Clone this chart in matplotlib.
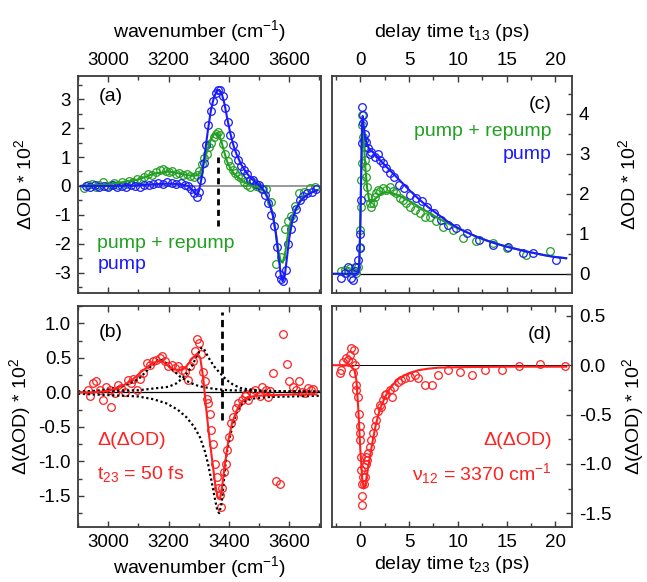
import numpy as np
import matplotlib
matplotlib.use("Agg")
import matplotlib.pyplot as plt
from matplotlib.ticker import MultipleLocator, FormatStrFormatter

plt.rcParams['font.family'] = ['Liberation Sans', 'DejaVu Sans']
plt.rcParams['mathtext.fontset'] = 'custom'
plt.rcParams['mathtext.rm'] = 'Liberation Sans'
plt.rcParams['mathtext.it'] = 'Liberation Sans:italic'
plt.rcParams['mathtext.default'] = 'regular'
plt.rcParams['axes.unicode_minus'] = False

GREEN = '#22a022'
BLUE = '#1a1aff'
RED = '#ff2020'
SPINE = '#3a3a3a'

# ---------------- panel (a): transient spectra ----------------
a_wn_pump = [2925, 2940, 2955, 2970, 2985, 3000, 3015, 3030, 3045, 3060, 3075, 3090,
             3105, 3120, 3135, 3150, 3165, 3180, 3195, 3210, 3225, 3240, 3255, 3265,
             3275, 3285, 3293, 3300, 3308, 3316, 3324, 3332, 3340, 3348, 3356, 3364,
             3372, 3380, 3388, 3396, 3404, 3412, 3420, 3430, 3440, 3450, 3460, 3470,
             3480, 3490, 3500, 3510, 3520, 3530, 3540, 3550, 3558, 3566, 3574, 3580,
             3588, 3596, 3604, 3612, 3622, 3634, 3646, 3660, 3675, 3688]
a_od_pump = [0.0, -0.02, 0.03, -0.03, 0.0, -0.02, 0.02, -0.02, 0.0, -0.04, 0.02, 0.0,
             -0.02, 0.03, 0.05, 0.08, 0.1, 0.08, 0.12, 0.1, 0.06, 0.1, 0.05, 0.0,
             -0.1, -0.25, -0.38, -0.2, 0.2, 0.8, 1.4, 2.1, 2.6, 2.95, 3.2, 3.3,
             3.3, 3.1, 2.7, 2.2, 1.75, 1.4, 1.15, 0.9, 0.7, 0.55, 0.4, 0.2,
             0.2, 0.08, 0.05, -0.1, -0.3, -0.6, -1.0, -1.4, -2.1, -3.05, -3.2, -3.3,
             -2.9, -2.0, -1.5, -1.1, -0.8, -0.5, -0.35, -0.25, -0.2, -0.12]

a_wn_rep = [2920, 2932, 2945, 2958, 2970, 2983, 2995, 3008, 3020, 3033, 3045, 3058,
            3070, 3083, 3095, 3108, 3120, 3133, 3145, 3158, 3170, 3180, 3190, 3200,
            3212, 3224, 3236, 3248, 3260, 3272, 3284, 3294, 3302, 3310, 3318, 3326,
            3334, 3342, 3350, 3358, 3365, 3372, 3380, 3388, 3396, 3404, 3412, 3420,
            3430, 3440, 3450, 3460, 3470, 3480, 3490, 3500, 3512, 3524, 3538, 3557,
            3574, 3585, 3596, 3606, 3618, 3632, 3650, 3668, 3685]
a_od_rep = [-0.08, 0.05, 0.08, -0.02, 0.05, 0.12, 0.0, 0.05, 0.1, 0.05, 0.12, 0.08,
            0.18, 0.15, 0.25, 0.2, 0.32, 0.4, 0.38, 0.48, 0.55, 0.6, 0.52, 0.48,
            0.5, 0.42, 0.45, 0.38, 0.42, 0.35, 0.32, 0.38, 0.5, 0.75, 0.95, 1.1,
            1.35, 1.5, 1.7, 1.78, 1.88, 1.75, 1.45, 1.1, 0.85, 0.7, 0.55, 0.45,
            0.35, 0.28, 0.15, 0.05, -0.05, 0.12, 0.0, -0.02, -0.1, -0.12, -0.55, -2.7,
            -2.45, -1.5, -1.2, -1.05, -0.7, -0.25, -0.2, -0.08, -0.05]

a_fit_wn = [2910, 3000, 3100, 3150, 3200, 3240, 3265, 3280, 3292, 3300, 3310, 3320,
            3330, 3340, 3350, 3360, 3368, 3376, 3385, 3395, 3405, 3415, 3425, 3440,
            3455, 3470, 3485, 3500, 3515, 3530, 3545, 3555, 3565, 3572, 3578, 3585,
            3592, 3600, 3610, 3620, 3635, 3650, 3665, 3680, 3692]
a_fit_pump = [0.0, 0.0, 0.02, 0.06, 0.08, 0.06, 0.0, -0.15, -0.3, -0.2, 0.3, 1.1,
              1.9, 2.6, 3.05, 3.28, 3.32, 3.2, 2.85, 2.3, 1.8, 1.4, 1.1, 0.75,
              0.5, 0.3, 0.15, 0.02, -0.15, -0.45, -1.0, -1.6, -2.5, -3.1, -3.3, -3.1,
              -2.5, -1.8, -1.2, -0.85, -0.55, -0.38, -0.27, -0.2, -0.15]
a_fit_rep = [0.0, 0.05, 0.22, 0.42, 0.5, 0.42, 0.37, 0.35, 0.36, 0.42, 0.6, 0.9,
             1.3, 1.6, 1.78, 1.83, 1.75, 1.5, 1.15, 0.82, 0.6, 0.45, 0.35, 0.22,
             0.1, 0.02, -0.02, -0.05, -0.15, -0.4, -0.95, -1.6, -2.3, -2.6, -2.65, -2.4,
             -1.9, -1.4, -1.05, -0.8, -0.52, -0.36, -0.26, -0.2, -0.15]

a_mark_wn = 3364
a_mark_y = (-1.4, 1.0)

# ---------------- panel (b): difference spectrum ----------------
b_wn = [2934, 2939, 2950, 2961, 2972, 2983, 2994, 3006, 3009, 3022, 3033, 3044,
        3055, 3066, 3077, 3083, 3094, 3105, 3116, 3127, 3138, 3149, 3160, 3171,
        3179, 3188, 3199, 3210, 3221, 3232, 3243, 3254, 3265, 3271, 3282, 3287,
        3293, 3300, 3307, 3313, 3320, 3326, 3331, 3337, 3342, 3348, 3353, 3359,
        3364, 3370, 3373, 3378, 3383, 3389, 3394, 3401, 3407, 3414, 3422, 3431,
        3442, 3453, 3458, 3464, 3475, 3486, 3502, 3511, 3524, 3531, 3535, 3546,
        3557, 3568, 3579, 3591, 3599, 3611, 3621, 3632, 3642, 3651, 3662, 3673, 3680]
b_dod = [0.03, -0.06, 0.13, 0.16, 0.03, -0.11, 0.08, 0.03, -0.21, -0.01, 0.11, 0.06,
         0.01, 0.18, 0.13, 0.2, 0.03, 0.2, 0.28, 0.42, 0.4, 0.45, 0.47, 0.5,
         0.52, 0.45, 0.38, 0.4, 0.35, 0.38, 0.33, 0.3, 0.18, 0.38, 0.45, 0.6,
         0.77, 0.72, 0.55, 0.3, 0.16, -0.09, -0.16, -0.31, -0.55, -0.75, -1.04, -1.23,
         -1.38, -1.48, -1.66, -1.38, -1.16, -1.04, -0.84, -0.65, -0.45, -0.36, -0.23, -0.16,
         -0.11, -0.06, -0.02, -0.11, 0.0, 0.03, -0.06, 0.07, 0.03, -0.07, 0.02, 0.28,
         -1.28, -1.33, 0.85, 0.41, 0.16, 0.07, 0.03, 0.17, 0.0, -0.01, 0.06, 0.03, 0.05]

b_fit_wn = [2900, 2950, 3000, 3050, 3080, 3110, 3140, 3165, 3180, 3200, 3220, 3240,
            3260, 3280, 3295, 3305, 3315, 3325, 3335, 3345, 3355, 3363, 3370, 3378,
            3388, 3398, 3410, 3425, 3440, 3460, 3490, 3550, 3620, 3690]
b_fit = [0.0, 0.0, 0.02, 0.1, 0.18, 0.3, 0.4, 0.46, 0.45, 0.38, 0.33, 0.32,
         0.38, 0.5, 0.56, 0.5, 0.2, -0.25, -0.65, -1.0, -1.35, -1.52, -1.55, -1.35,
         -1.0, -0.7, -0.45, -0.27, -0.15, -0.08, -0.05, -0.04, -0.03, -0.03]

b_c1_wn = [2900, 2950, 3000, 3050, 3100, 3130, 3150, 3170, 3190, 3210, 3240, 3270,
           3300, 3350, 3400, 3500, 3700]
b_c1 = [0.01, 0.02, 0.04, 0.09, 0.19, 0.32, 0.42, 0.48, 0.43, 0.34, 0.22, 0.14,
        0.09, 0.05, 0.03, 0.02, 0.01]
b_c2_wn = [2900, 3100, 3200, 3226, 3245, 3260, 3280, 3295, 3308, 3316, 3330, 3350,
           3370, 3392, 3414, 3440, 3470, 3520, 3600, 3700]
b_c2 = [0.01, 0.03, 0.08, 0.13, 0.2, 0.27, 0.4, 0.54, 0.64, 0.64, 0.52, 0.38,
        0.28, 0.18, 0.11, 0.06, 0.04, 0.02, 0.01, 0.01]
b_c3_wn = [2900, 2950, 3000, 3050, 3100, 3150, 3193, 3230, 3259, 3285, 3304, 3320,
           3331, 3343, 3353, 3362, 3368, 3376, 3385, 3392, 3403, 3414, 3425, 3436,
           3455, 3480, 3520, 3600, 3700]
b_c3 = [-0.02, -0.03, -0.04, -0.05, -0.06, -0.1, -0.16, -0.25, -0.36, -0.5, -0.65, -0.85,
        -1.04, -1.3, -1.53, -1.72, -1.75, -1.6, -1.2, -0.9, -0.65, -0.45, -0.3, -0.2,
        -0.12, -0.09, -0.07, -0.06, -0.05]

b_mark_wn = 3378
b_mark_y = (-0.4, 1.16)

# ---------------- panel (c): transients at 3370 cm-1 ----------------
c_t_pump = [-1.95, -1.6, -1.26, -0.92, -0.75, -0.58, -0.41, -0.24, -0.07, 0.0, 0.07, 0.14,
            0.17, 0.24, 0.27, 0.38, 0.5, 0.6, 0.8, 0.96, 1.13, 1.47, 1.8, 2.0,
            2.3, 2.67, 3.0, 3.5, 4.0, 4.5, 5.1, 5.7, 6.3, 6.8, 7.6, 8.3,
            9.0, 9.85, 10.9, 12.2, 13.6, 15.1, 16.7, 17.7, 20.1]
c_od_pump = [-0.1, 0.02, 0.18, -0.1, -0.15, 0.06, 0.18, 0.35, 0.64, 1.0, 1.85, 3.27,
             4.18, 3.97, 3.77, 3.35, 3.5, 3.3, 3.14, 3.0, 3.05, 2.93, 3.0, 2.85,
             2.77, 2.64, 2.52, 2.43, 2.22, 2.14, 1.98, 1.9, 1.81, 1.68, 1.52, 1.35,
             1.23, 1.14, 1.02, 0.85, 0.73, 0.68, 0.52, 0.52, 0.35]
c_t_rep = [-1.95, -1.6, -1.26, -1.09, -0.92, -0.58, -0.41, -0.24, -0.07, -0.03, 0.03, 0.1,
           0.14, 0.17, 0.21, 0.27, 0.38, 0.44, 0.55, 0.62, 0.72, 0.82, 0.96, 1.13,
           1.3, 1.47, 1.64, 1.8, 1.97, 2.32, 2.67, 3.01, 3.35, 3.69, 4.03, 4.38,
           4.72, 5.06, 5.57, 6.08, 6.6, 7.11, 7.8, 8.48, 9.5, 10.5, 11.9, 13.6,
           15.0, 17.0, 19.4]
c_od_rep = [0.06, 0.1, 0.06, 0.14, 0.02, 0.18, 0.02, 0.18, 0.68, 1.1, 1.68, 2.35,
            2.77, 3.97, 3.72, 3.43, 3.18, 2.85, 2.68, 2.43, 2.18, 1.93, 1.77, 1.68,
            1.77, 1.93, 2.02, 2.1, 2.06, 2.14, 2.1, 2.18, 2.06, 2.02, 1.9, 1.85,
            1.77, 1.68, 1.6, 1.52, 1.43, 1.43, 1.31, 1.18, 1.1, 0.89, 0.81, 0.77,
            0.64, 0.48, 0.56]

c_fit_t_pump = [-2.9, -0.4, -0.2, -0.1, 0.0, 0.1, 0.18, 0.25, 0.35, 0.5, 0.75, 1.0,
                1.5, 2, 3, 4, 5, 6, 7, 8, 9, 10, 11, 12,
                13, 14, 15, 16, 17, 18, 19, 20, 21.1]
c_fit_pump = [0.0, 0.0, 0.05, 0.3, 1.2, 2.6, 3.7, 3.95, 3.7, 3.4, 3.2, 3.1,
              3.0, 2.85, 2.6, 2.35, 2.1, 1.87, 1.66, 1.48, 1.3, 1.15, 1.03, 0.92,
              0.83, 0.75, 0.68, 0.62, 0.56, 0.51, 0.46, 0.42, 0.39]
c_fit_t_rep = [-2.9, -0.4, -0.2, -0.1, 0.0, 0.1, 0.18, 0.25, 0.35, 0.5, 0.7, 0.9,
               1.1, 1.4, 2, 2.5, 3, 3.5, 4, 5, 6, 7, 8, 9,
               10, 11, 12, 13, 14, 15, 16, 17, 18, 19, 20, 21.1]
c_fit_rep = [0.0, 0.0, 0.05, 0.3, 1.2, 2.6, 3.6, 3.8, 3.4, 2.7, 2.15, 1.85,
             1.78, 1.85, 1.98, 2.03, 2.04, 2.0, 1.95, 1.83, 1.68, 1.53, 1.39, 1.26,
             1.14, 1.03, 0.92, 0.83, 0.75, 0.68, 0.62, 0.56, 0.51, 0.46, 0.42, 0.39]

# ---------------- panel (d): difference transient ----------------
d_t = [-2.1, -1.95, -1.78, -1.5, -1.26, -1.1, -0.92, -0.82, -0.75, -0.68, -0.58, -0.48,
       -0.41, -0.24, -0.14, -0.07, -0.03, 0.0, 0.03, 0.07, 0.14, 0.17, 0.2, 0.27,
       0.34, 0.41, 0.48, 0.55, 0.6, 0.72, 0.82, 0.96, 1.13, 1.3, 1.47, 1.64,
       1.8, 2.0, 2.15, 2.3, 2.5, 2.67, 3.0, 3.2, 3.5, 3.86, 4.2, 4.55,
       5.1, 5.6, 5.9, 6.6, 7.3, 8.0, 9.0, 10.2, 11.4, 12.8, 14.5, 16.3,
       18.4, 21.0]
d_dod = [-0.08, -0.05, 0.03, 0.07, 0.05, 0.1, 0.17, 0.03, -0.08, 0.15, 0.0, -0.2,
         -0.25, -0.32, -0.49, -0.62, -0.69, -0.76, -0.93, -1.06, -1.33, -1.42, -1.2, -1.13,
         -1.03, -1.2, -1.13, -1.0, -0.93, -0.96, -0.89, -0.83, -0.76, -0.69, -0.62, -0.56,
         -0.46, -0.4, -0.42, -0.35, -0.3, -0.29, -0.25, -0.32, -0.22, -0.17, -0.15, -0.13,
         -0.12, -0.1, -0.13, -0.2, -0.2, -0.1, -0.05, -0.07, -0.1, -0.05, -0.05, -0.01,
         0.01, -0.01]
d_fit_t = [-2.9, -1.5, -1.0, -0.6, -0.4, -0.2, 0.0, 0.2, 0.35, 0.5, 0.7, 1.0,
           1.3, 1.6, 2.0, 2.5, 3, 3.5, 4, 5, 6, 7, 8, 10, 15, 21.1]
d_fit = [0.0, 0.0, -0.01, -0.05, -0.15, -0.45, -0.85, -1.15, -1.25, -1.22, -1.1, -0.92,
         -0.75, -0.6, -0.45, -0.33, -0.24, -0.18, -0.13, -0.08, -0.05, -0.035, -0.025, -0.02,
         -0.015, -0.015]

FS_TICK = 13.5
FS_LAB = 14
FS_TXT = 14
mk = dict(marker='o', ls='none', mfc='none', ms=5.5, mew=0.9)

fig = plt.figure(figsize=(6.47, 5.82), dpi=100)
W, H = 647, 582


def box(l, t, r, b):
    return [l / W, 1 - b / H, (r - l) / W, (b - t) / H]


axa = fig.add_axes(box(78, 76, 321, 293))
axb = fig.add_axes(box(78, 306, 321, 527))
axc = fig.add_axes(box(332, 76, 572, 293))
axd = fig.add_axes(box(332, 306, 572, 527))

for ax in (axa, axb, axc, axd):
    for s in ax.spines.values():
        s.set_color(SPINE)
        s.set_linewidth(1.3)
    ax.tick_params(which='both', direction='in', color=SPINE, labelsize=FS_TICK,
                   top=True, bottom=True, pad=5)
    ax.tick_params(which='major', length=4, width=1)
    ax.tick_params(which='minor', length=3, width=1)

# (a)
axa.axhline(0, color='#888888', lw=1.2, zorder=1)
axa.plot(a_wn_rep, a_od_rep, color=GREEN, **mk)
axa.plot(a_wn_pump, a_od_pump, color=BLUE, **mk)
axa.plot(a_fit_wn, a_fit_rep, color=GREEN, lw=1.5)
axa.plot(a_fit_wn, a_fit_pump, color=BLUE, lw=1.5)
axa.plot([a_mark_wn, a_mark_wn], a_mark_y, color='black', lw=2, ls=(0, (2.2, 1.6)))
axa.set_xlim(2900, 3705)
axa.set_ylim(-3.7, 3.8)
axa.xaxis.set_major_locator(MultipleLocator(200))
axa.xaxis.set_minor_locator(MultipleLocator(100))
axa.yaxis.set_major_locator(MultipleLocator(1))
axa.yaxis.set_minor_locator(MultipleLocator(0.5))
axa.tick_params(labeltop=True, labelbottom=False, right=False, which='both')
axa.xaxis.set_label_position('top')
axa.set_xlabel('wavenumber (cm$^{-1}$)', fontsize=FS_LAB, labelpad=11)
axa.set_ylabel('ΔOD * 10$^2$', fontsize=FS_LAB, labelpad=14)
axa.text(0.085, 0.905, '(a)', transform=axa.transAxes, fontsize=FS_TXT, ha='left', va='center')
axa.text(0.08, 0.23, 'pump + repump', transform=axa.transAxes, color=GREEN, fontsize=FS_TXT,
         ha='left', va='center')
axa.text(0.08, 0.13, 'pump', transform=axa.transAxes, color=BLUE, fontsize=FS_TXT,
         ha='left', va='center')

# (b)
axb.axhline(0, color='black', lw=0.9, zorder=1)
axb.plot(b_wn, b_dod, color=RED, **mk)
for cx, cy in ((b_c1_wn, b_c1), (b_c2_wn, b_c2), (b_c3_wn, b_c3)):
    axb.plot(cx, cy, color='black', lw=1.6, ls=(0, (1, 1.2)))
axb.plot(b_fit_wn, b_fit, color=RED, lw=1.5)
axb.plot([b_mark_wn, b_mark_wn], b_mark_y, color='black', lw=2, ls=(0, (2.6, 1.6)))
axb.set_xlim(2900, 3705)
axb.set_ylim(-1.95, 1.25)
axb.xaxis.set_major_locator(MultipleLocator(200))
axb.xaxis.set_minor_locator(MultipleLocator(100))
axb.yaxis.set_major_locator(MultipleLocator(0.5))
axb.yaxis.set_minor_locator(MultipleLocator(0.25))
axb.yaxis.set_major_formatter(FormatStrFormatter('%.1f'))
axb.tick_params(right=False, which='both')
axb.set_xlabel('wavenumber (cm$^{-1}$)', fontsize=FS_LAB, labelpad=2)
axb.set_ylabel('Δ(ΔOD) * 10$^2$', fontsize=FS_LAB, labelpad=4)
axb.text(0.085, 0.88, '(b)', transform=axb.transAxes, fontsize=FS_TXT, ha='left', va='center')
axb.text(0.08, 0.39, 'Δ(ΔOD)', transform=axb.transAxes, color=RED, fontsize=FS_TXT,
         ha='left', va='center')
axb.text(0.08, 0.24, 't$_{23}$ = 50 fs', transform=axb.transAxes, color=RED, fontsize=FS_TXT,
         ha='left', va='center')

# (c)
axc.plot([0, 21.7], [0, 0], color='black', lw=0.9, zorder=1)
axc.plot(c_t_rep, c_od_rep, color=GREEN, **mk)
axc.plot(c_t_pump, c_od_pump, color=BLUE, **mk)
axc.plot(c_fit_t_rep, c_fit_rep, color=GREEN, lw=1.5)
axc.plot(c_fit_t_pump, c_fit_pump, color=BLUE, lw=1.5)
axc.set_xlim(-2.9, 21.7)
axc.set_ylim(-0.48, 4.95)
axc.xaxis.set_major_locator(MultipleLocator(5))
axc.xaxis.set_minor_locator(MultipleLocator(2.5))
axc.yaxis.set_major_locator(MultipleLocator(1))
axc.yaxis.set_minor_locator(MultipleLocator(0.5))
axc.yaxis.tick_right()
axc.tick_params(labeltop=True, labelbottom=False, left=False, right=True, which='both')
axc.xaxis.set_label_position('top')
axc.yaxis.set_label_position('right')
axc.set_xlabel('delay time t$_{13}$ (ps)', fontsize=FS_LAB, labelpad=11)
axc.set_ylabel('ΔOD * 10$^2$', fontsize=FS_LAB, labelpad=20)
axc.text(0.915, 0.87, '(c)', transform=axc.transAxes, fontsize=FS_TXT, ha='right', va='center')
axc.text(0.915, 0.745, 'pump + repump', transform=axc.transAxes, color=GREEN, fontsize=FS_TXT,
         ha='right', va='center')
axc.text(0.915, 0.64, 'pump', transform=axc.transAxes, color=BLUE, fontsize=FS_TXT,
         ha='right', va='center')

# (d)
axd.axhline(0, color='black', lw=0.7, zorder=1)
axd.plot(d_t, d_dod, color=RED, **mk)
axd.plot(d_fit_t, d_fit, color=RED, lw=1.5)
axd.set_xlim(-2.9, 21.7)
axd.set_ylim(-1.64, 0.6)
axd.xaxis.set_major_locator(MultipleLocator(5))
axd.xaxis.set_minor_locator(MultipleLocator(2.5))
axd.yaxis.set_major_locator(MultipleLocator(0.5))
axd.yaxis.set_minor_locator(MultipleLocator(0.25))
axd.yaxis.set_major_formatter(FormatStrFormatter('%.1f'))
axd.yaxis.tick_right()
axd.tick_params(left=False, right=True, which='both')
axd.yaxis.set_label_position('right')
axd.set_xlabel('delay time t$_{23}$ (ps)', fontsize=FS_LAB, labelpad=2)
axd.set_ylabel('Δ(ΔOD) * 10$^2$', fontsize=FS_LAB, labelpad=6)
axd.text(0.915, 0.87, '(d)', transform=axd.transAxes, fontsize=FS_TXT, ha='right', va='center')
axd.text(0.915, 0.39, 'Δ(ΔOD)', transform=axd.transAxes, color=RED, fontsize=FS_TXT,
         ha='right', va='center')
axd.text(0.915, 0.24, 'ν$_{12}$ = 3370 cm$^{-1}$', transform=axd.transAxes, color=RED,
         fontsize=FS_TXT, ha='right', va='center')

fig.savefig('out.png', dpi=100)
